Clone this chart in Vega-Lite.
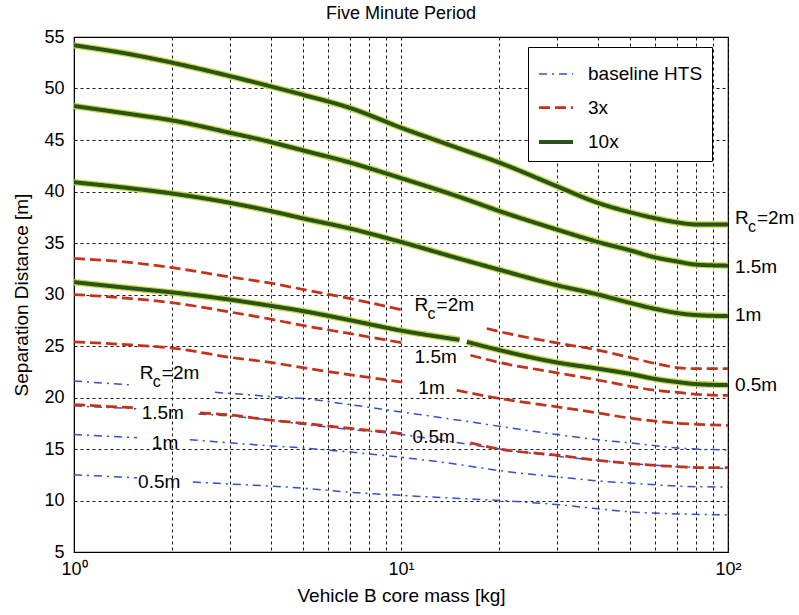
{
  "$schema": "https://vega.github.io/schema/vega-lite/v6.json",
  "width": 654,
  "height": 515,
  "autosize": {"type": "none"},
  "padding": {"left": 74, "top": 37, "right": 71, "bottom": 63},
  "background": "#ffffff",
  "title": {"text": "Five Minute Period", "font": "Liberation Sans", "fontSize": 18, "fontWeight": "normal", "color": "#000", "offset": 5},
  "datasets": {
    "curves": [
      {"s":"10x","r":"2m","p":1,"x":1,"y":54.2},{"s":"10x","r":"2m","p":1,"x":1.5,"y":53.3},{"s":"10x","r":"2m","p":1,"x":2,"y":52.5},{"s":"10x","r":"2m","p":1,"x":3,"y":51.2},{"s":"10x","r":"2m","p":1,"x":4,"y":50.2},{"s":"10x","r":"2m","p":1,"x":5,"y":49.4},{"s":"10x","r":"2m","p":1,"x":7,"y":48.1},{"s":"10x","r":"2m","p":1,"x":10,"y":46.2},{"s":"10x","r":"2m","p":1,"x":15,"y":44.2},{"s":"10x","r":"2m","p":1,"x":20,"y":42.8},{"s":"10x","r":"2m","p":1,"x":30,"y":40.5},{"s":"10x","r":"2m","p":1,"x":40,"y":38.9},{"s":"10x","r":"2m","p":1,"x":50,"y":38.0},{"s":"10x","r":"2m","p":1,"x":60,"y":37.4},{"s":"10x","r":"2m","p":1,"x":70,"y":37.0},{"s":"10x","r":"2m","p":1,"x":80,"y":36.8},{"s":"10x","r":"2m","p":1,"x":100,"y":36.8},
      {"s":"10x","r":"1.5m","p":1,"x":1,"y":48.3},{"s":"10x","r":"1.5m","p":1,"x":1.5,"y":47.5},{"s":"10x","r":"1.5m","p":1,"x":2,"y":46.9},{"s":"10x","r":"1.5m","p":1,"x":3,"y":45.7},{"s":"10x","r":"1.5m","p":1,"x":4,"y":44.8},{"s":"10x","r":"1.5m","p":1,"x":5,"y":44.0},{"s":"10x","r":"1.5m","p":1,"x":7,"y":42.8},{"s":"10x","r":"1.5m","p":1,"x":10,"y":41.3},{"s":"10x","r":"1.5m","p":1,"x":15,"y":39.5},{"s":"10x","r":"1.5m","p":1,"x":20,"y":38.1},{"s":"10x","r":"1.5m","p":1,"x":30,"y":36.3},{"s":"10x","r":"1.5m","p":1,"x":40,"y":35.1},{"s":"10x","r":"1.5m","p":1,"x":50,"y":34.3},{"s":"10x","r":"1.5m","p":1,"x":60,"y":33.6},{"s":"10x","r":"1.5m","p":1,"x":70,"y":33.2},{"s":"10x","r":"1.5m","p":1,"x":80,"y":32.9},{"s":"10x","r":"1.5m","p":1,"x":100,"y":32.8},
      {"s":"10x","r":"1m","p":1,"x":1,"y":40.9},{"s":"10x","r":"1m","p":1,"x":1.5,"y":40.3},{"s":"10x","r":"1m","p":1,"x":2,"y":39.8},{"s":"10x","r":"1m","p":1,"x":3,"y":38.9},{"s":"10x","r":"1m","p":1,"x":4,"y":38.1},{"s":"10x","r":"1m","p":1,"x":5,"y":37.4},{"s":"10x","r":"1m","p":1,"x":7,"y":36.4},{"s":"10x","r":"1m","p":1,"x":10,"y":35.1},{"s":"10x","r":"1m","p":1,"x":15,"y":33.5},{"s":"10x","r":"1m","p":1,"x":20,"y":32.4},{"s":"10x","r":"1m","p":1,"x":30,"y":30.9},{"s":"10x","r":"1m","p":1,"x":40,"y":30.0},{"s":"10x","r":"1m","p":1,"x":50,"y":29.2},{"s":"10x","r":"1m","p":1,"x":60,"y":28.6},{"s":"10x","r":"1m","p":1,"x":70,"y":28.2},{"s":"10x","r":"1m","p":1,"x":80,"y":28.0},{"s":"10x","r":"1m","p":1,"x":100,"y":27.9},
      {"s":"10x","r":"0.5m","p":1,"x":1,"y":31.2},{"s":"10x","r":"0.5m","p":1,"x":1.5,"y":30.6},{"s":"10x","r":"0.5m","p":1,"x":2,"y":30.2},{"s":"10x","r":"0.5m","p":1,"x":3,"y":29.5},{"s":"10x","r":"0.5m","p":1,"x":4,"y":28.9},{"s":"10x","r":"0.5m","p":1,"x":5,"y":28.4},{"s":"10x","r":"0.5m","p":1,"x":7,"y":27.5},{"s":"10x","r":"0.5m","p":1,"x":10,"y":26.5},{"s":"10x","r":"0.5m","p":1,"x":15.1,"y":25.6},
      {"s":"10x","r":"0.5m","p":2,"x":15.9,"y":25.4},{"s":"10x","r":"0.5m","p":2,"x":20,"y":24.6},{"s":"10x","r":"0.5m","p":2,"x":30,"y":23.4},{"s":"10x","r":"0.5m","p":2,"x":40,"y":22.8},{"s":"10x","r":"0.5m","p":2,"x":50,"y":22.3},{"s":"10x","r":"0.5m","p":2,"x":60,"y":21.8},{"s":"10x","r":"0.5m","p":2,"x":70,"y":21.5},{"s":"10x","r":"0.5m","p":2,"x":80,"y":21.3},{"s":"10x","r":"0.5m","p":2,"x":100,"y":21.2},

      {"s":"3x","r":"2m","p":1,"x":1,"y":33.5},{"s":"3x","r":"2m","p":1,"x":1.5,"y":33.1},{"s":"3x","r":"2m","p":1,"x":2,"y":32.6},{"s":"3x","r":"2m","p":1,"x":3,"y":31.7},{"s":"3x","r":"2m","p":1,"x":4,"y":31.1},{"s":"3x","r":"2m","p":1,"x":5,"y":30.5},{"s":"3x","r":"2m","p":1,"x":7,"y":29.6},{"s":"3x","r":"2m","p":1,"x":10.1,"y":28.5},
      {"s":"3x","r":"2m","p":2,"x":18.3,"y":26.7},{"s":"3x","r":"2m","p":2,"x":20,"y":26.4},{"s":"3x","r":"2m","p":2,"x":30,"y":25.3},{"s":"3x","r":"2m","p":2,"x":40,"y":24.6},{"s":"3x","r":"2m","p":2,"x":50,"y":23.9},{"s":"3x","r":"2m","p":2,"x":60,"y":23.3},{"s":"3x","r":"2m","p":2,"x":70,"y":22.9},{"s":"3x","r":"2m","p":2,"x":80,"y":22.8},{"s":"3x","r":"2m","p":2,"x":100,"y":22.8},
      {"s":"3x","r":"1.5m","p":1,"x":1,"y":30.0},{"s":"3x","r":"1.5m","p":1,"x":1.5,"y":29.6},{"s":"3x","r":"1.5m","p":1,"x":2,"y":29.2},{"s":"3x","r":"1.5m","p":1,"x":3,"y":28.3},{"s":"3x","r":"1.5m","p":1,"x":4,"y":27.6},{"s":"3x","r":"1.5m","p":1,"x":5,"y":27.0},{"s":"3x","r":"1.5m","p":1,"x":7,"y":26.2},{"s":"3x","r":"1.5m","p":1,"x":10.1,"y":25.3},
      {"s":"3x","r":"1.5m","p":2,"x":16.3,"y":24.1},{"s":"3x","r":"1.5m","p":2,"x":20,"y":23.4},{"s":"3x","r":"1.5m","p":2,"x":30,"y":22.4},{"s":"3x","r":"1.5m","p":2,"x":40,"y":21.7},{"s":"3x","r":"1.5m","p":2,"x":50,"y":21.1},{"s":"3x","r":"1.5m","p":2,"x":60,"y":20.7},{"s":"3x","r":"1.5m","p":2,"x":70,"y":20.5},{"s":"3x","r":"1.5m","p":2,"x":80,"y":20.3},{"s":"3x","r":"1.5m","p":2,"x":100,"y":20.2},
      {"s":"3x","r":"1m","p":1,"x":1,"y":25.4},{"s":"3x","r":"1m","p":1,"x":1.5,"y":25.1},{"s":"3x","r":"1m","p":1,"x":2,"y":24.8},{"s":"3x","r":"1m","p":1,"x":3,"y":23.9},{"s":"3x","r":"1m","p":1,"x":4,"y":23.4},{"s":"3x","r":"1m","p":1,"x":5,"y":22.9},{"s":"3x","r":"1m","p":1,"x":7,"y":22.2},{"s":"3x","r":"1m","p":1,"x":10.1,"y":21.5},
      {"s":"3x","r":"1m","p":2,"x":14.8,"y":20.7},{"s":"3x","r":"1m","p":2,"x":20,"y":19.9},{"s":"3x","r":"1m","p":2,"x":30,"y":19.1},{"s":"3x","r":"1m","p":2,"x":40,"y":18.5},{"s":"3x","r":"1m","p":2,"x":50,"y":18.0},{"s":"3x","r":"1m","p":2,"x":60,"y":17.7},{"s":"3x","r":"1m","p":2,"x":70,"y":17.5},{"s":"3x","r":"1m","p":2,"x":80,"y":17.4},{"s":"3x","r":"1m","p":2,"x":100,"y":17.3},
      {"s":"3x","r":"0.5m","p":1,"x":1,"y":19.3},{"s":"3x","r":"0.5m","p":1,"x":1.56,"y":19.0},
      {"s":"3x","r":"0.5m","p":2,"x":2.43,"y":18.5},{"s":"3x","r":"0.5m","p":2,"x":3,"y":18.3},{"s":"3x","r":"0.5m","p":2,"x":4,"y":17.8},{"s":"3x","r":"0.5m","p":2,"x":5,"y":17.5},{"s":"3x","r":"0.5m","p":2,"x":7,"y":17.0},{"s":"3x","r":"0.5m","p":2,"x":10.1,"y":16.5},
      {"s":"3x","r":"0.5m","p":3,"x":16.3,"y":15.6},{"s":"3x","r":"0.5m","p":3,"x":20,"y":15.0},{"s":"3x","r":"0.5m","p":3,"x":30,"y":14.4},{"s":"3x","r":"0.5m","p":3,"x":40,"y":13.9},{"s":"3x","r":"0.5m","p":3,"x":50,"y":13.6},{"s":"3x","r":"0.5m","p":3,"x":60,"y":13.4},{"s":"3x","r":"0.5m","p":3,"x":70,"y":13.3},{"s":"3x","r":"0.5m","p":3,"x":80,"y":13.2},{"s":"3x","r":"0.5m","p":3,"x":100,"y":13.2},

      {"s":"baseline HTS","r":"2m","p":1,"x":1,"y":21.6},{"s":"baseline HTS","r":"2m","p":1,"x":1.52,"y":21.2},
      {"s":"baseline HTS","r":"2m","p":2,"x":2.7,"y":20.5},{"s":"baseline HTS","r":"2m","p":2,"x":3,"y":20.4},{"s":"baseline HTS","r":"2m","p":2,"x":4,"y":20.1},{"s":"baseline HTS","r":"2m","p":2,"x":5,"y":19.9},{"s":"baseline HTS","r":"2m","p":2,"x":7,"y":19.3},{"s":"baseline HTS","r":"2m","p":2,"x":10,"y":18.6},{"s":"baseline HTS","r":"2m","p":2,"x":15,"y":17.8},{"s":"baseline HTS","r":"2m","p":2,"x":20,"y":17.2},{"s":"baseline HTS","r":"2m","p":2,"x":30,"y":16.4},{"s":"baseline HTS","r":"2m","p":2,"x":40,"y":15.9},{"s":"baseline HTS","r":"2m","p":2,"x":50,"y":15.6},{"s":"baseline HTS","r":"2m","p":2,"x":70,"y":15.1},{"s":"baseline HTS","r":"2m","p":2,"x":100,"y":14.9},
      {"s":"baseline HTS","r":"1.5m","p":1,"x":1,"y":19.2},{"s":"baseline HTS","r":"1.5m","p":1,"x":1.55,"y":18.9},
      {"s":"baseline HTS","r":"1.5m","p":2,"x":2.4,"y":18.4},{"s":"baseline HTS","r":"1.5m","p":2,"x":3,"y":18.2},{"s":"baseline HTS","r":"1.5m","p":2,"x":4,"y":17.8},{"s":"baseline HTS","r":"1.5m","p":2,"x":5,"y":17.4},{"s":"baseline HTS","r":"1.5m","p":2,"x":7,"y":16.9},{"s":"baseline HTS","r":"1.5m","p":2,"x":10,"y":16.4},{"s":"baseline HTS","r":"1.5m","p":2,"x":15,"y":15.6},{"s":"baseline HTS","r":"1.5m","p":2,"x":20,"y":15.0},{"s":"baseline HTS","r":"1.5m","p":2,"x":30,"y":14.3},{"s":"baseline HTS","r":"1.5m","p":2,"x":40,"y":13.9},{"s":"baseline HTS","r":"1.5m","p":2,"x":50,"y":13.6},{"s":"baseline HTS","r":"1.5m","p":2,"x":70,"y":13.3},{"s":"baseline HTS","r":"1.5m","p":2,"x":100,"y":13.1},
      {"s":"baseline HTS","r":"1m","p":1,"x":1,"y":16.4},{"s":"baseline HTS","r":"1m","p":1,"x":1.56,"y":16.1},
      {"s":"baseline HTS","r":"1m","p":2,"x":2.26,"y":15.9},{"s":"baseline HTS","r":"1m","p":2,"x":3,"y":15.6},{"s":"baseline HTS","r":"1m","p":2,"x":4,"y":15.3},{"s":"baseline HTS","r":"1m","p":2,"x":5,"y":15.1},{"s":"baseline HTS","r":"1m","p":2,"x":7,"y":14.7},{"s":"baseline HTS","r":"1m","p":2,"x":10,"y":14.2},{"s":"baseline HTS","r":"1m","p":2,"x":15,"y":13.5},{"s":"baseline HTS","r":"1m","p":2,"x":20,"y":12.9},{"s":"baseline HTS","r":"1m","p":2,"x":30,"y":12.3},{"s":"baseline HTS","r":"1m","p":2,"x":40,"y":11.9},{"s":"baseline HTS","r":"1m","p":2,"x":50,"y":11.7},{"s":"baseline HTS","r":"1m","p":2,"x":70,"y":11.4},{"s":"baseline HTS","r":"1m","p":2,"x":100,"y":11.3},
      {"s":"baseline HTS","r":"0.5m","p":1,"x":1,"y":12.5},{"s":"baseline HTS","r":"0.5m","p":1,"x":1.56,"y":12.2},
      {"s":"baseline HTS","r":"0.5m","p":2,"x":2.31,"y":11.8},{"s":"baseline HTS","r":"0.5m","p":2,"x":3,"y":11.6},{"s":"baseline HTS","r":"0.5m","p":2,"x":4,"y":11.4},{"s":"baseline HTS","r":"0.5m","p":2,"x":5,"y":11.2},{"s":"baseline HTS","r":"0.5m","p":2,"x":7,"y":10.8},{"s":"baseline HTS","r":"0.5m","p":2,"x":10,"y":10.5},{"s":"baseline HTS","r":"0.5m","p":2,"x":15,"y":10.2},{"s":"baseline HTS","r":"0.5m","p":2,"x":20,"y":10.0},{"s":"baseline HTS","r":"0.5m","p":2,"x":30,"y":9.6},{"s":"baseline HTS","r":"0.5m","p":2,"x":40,"y":9.2},{"s":"baseline HTS","r":"0.5m","p":2,"x":50,"y":8.9},{"s":"baseline HTS","r":"0.5m","p":2,"x":70,"y":8.7},{"s":"baseline HTS","r":"0.5m","p":2,"x":100,"y":8.6}
    ],
    "labels": [
      {"x":105,"y":32.7,"t":"1.5m"},{"x":105,"y":28.0,"t":"1m"},{"x":105,"y":21.2,"t":"0.5m"},
      {"x":11.0,"y":23.9,"t":"1.5m"},{"x":11.3,"y":20.9,"t":"1m"},{"x":10.85,"y":16.2,"t":"0.5m"},
      {"x":1.61,"y":18.5,"t":"1.5m"},{"x":1.73,"y":15.6,"t":"1m"},{"x":1.57,"y":11.8,"t":"0.5m"}
    ],
    "rc": [
      {"x":105,"y":37.4},{"x":11.0,"y":29.0},{"x":1.59,"y":22.4}
    ]
  },
  "encoding": {
    "x": {"field": "x", "type": "quantitative",
      "scale": {"type": "log", "domain": [1, 100], "nice": false},
      "axis": {"title": "Vehicle B core mass [kg]",
        "values": [1,2,3,4,5,6,7,8,9,10,20,30,40,50,60,70,80,90,100],
        "labelExpr": "datum.value == 1 ? '10⁰' : datum.value == 10 ? '10¹' : datum.value == 100 ? '10²' : ''",
        "labelFlush": false, "labelOverlap": false, "labelPadding": 8, "titlePadding": 8}},
    "y": {"field": "y", "type": "quantitative",
      "scale": {"domain": [5, 55], "nice": false, "zero": false},
      "axis": {"title": "Separation Distance [m]", "values": [5,10,15,20,25,30,35,40,45,50,55],
        "labelPadding": 10, "titlePadding": 12}}
  },
  "layer": [
    {
      "data": {"name": "curves"},
      "transform": [{"filter": "datum.s == 'baseline HTS'"}],
      "mark": {"type": "line", "clip": true, "interpolate": "monotone"},
      "encoding": {
        "detail": [{"field": "r"}, {"field": "p"}],
        "color": {"field": "s", "type": "nominal", "scale": {"domain": ["baseline HTS", "3x", "10x"], "range": ["#3350c8", "#c4321c", "#2a531a"]}, "legend": {"title": null}},
        "strokeDash": {"field": "s", "type": "nominal", "scale": {"domain": ["baseline HTS", "3x", "10x"], "range": [[8, 5, 2, 5], [11, 5], [1, 0]]}, "legend": {"title": null}},
        "strokeWidth": {"field": "s", "type": "nominal", "scale": {"domain": ["baseline HTS", "3x", "10x"], "range": [1.5, 4, 4.5]}, "legend": {"title": null}}
      }
    },
    {
      "data": {"name": "curves"},
      "transform": [{"filter": "datum.s == '3x'"}],
      "mark": {"type": "line", "clip": true, "interpolate": "monotone"},
      "encoding": {
        "detail": [{"field": "r"}, {"field": "p"}],
        "color": {"field": "s", "type": "nominal", "legend": {"title": null}},
        "strokeDash": {"field": "s", "type": "nominal", "legend": {"title": null}},
        "strokeWidth": {"field": "s", "type": "nominal", "legend": {"title": null}}
      }
    },
    {
      "data": {"name": "curves"},
      "transform": [{"filter": "datum.s == '10x'"}],
      "mark": {"type": "line", "clip": true, "interpolate": "monotone", "color": "#c8d84a", "strokeWidth": 6.5},
      "encoding": {"detail": [{"field": "r"}, {"field": "p"}]}
    },
    {
      "data": {"name": "curves"},
      "transform": [{"filter": "datum.s == '10x'"}],
      "mark": {"type": "line", "clip": true, "interpolate": "monotone"},
      "encoding": {
        "detail": [{"field": "r"}, {"field": "p"}],
        "color": {"field": "s", "type": "nominal", "legend": {"title": null}},
        "strokeDash": {"field": "s", "type": "nominal", "legend": {"title": null}},
        "strokeWidth": {"field": "s", "type": "nominal", "legend": {"title": null}}
      }
    },
    {
      "data": {"name": "labels"},
      "mark": {"type": "text", "align": "left", "baseline": "middle", "font": "Liberation Sans", "fontSize": 19, "color": "#000"},
      "encoding": {"text": {"field": "t"}}
    },
    {
      "data": {"name": "rc"},
      "mark": {"type": "text", "align": "left", "baseline": "middle", "font": "Liberation Sans", "fontSize": 19, "color": "#000", "text": "R"},
      "encoding": {}
    },
    {
      "data": {"name": "rc"},
      "mark": {"type": "text", "align": "left", "baseline": "middle", "font": "Liberation Sans", "fontSize": 16, "color": "#000", "text": "c", "dx": 13, "dy": 9},
      "encoding": {}
    },
    {
      "data": {"name": "rc"},
      "mark": {"type": "text", "align": "left", "baseline": "middle", "font": "Liberation Sans", "fontSize": 19, "color": "#000", "text": "=2m", "dx": 22},
      "encoding": {}
    }
  ],
  "config": {
    "view": {"stroke": "#000", "strokeWidth": 1.2},
    "axis": {"labelFont": "Liberation Sans", "titleFont": "Liberation Sans", "labelFontSize": 18, "titleFontSize": 19,
      "titleFontWeight": "normal", "labelColor": "#000", "titleColor": "#000", "domainColor": "#000",
      "grid": true, "gridColor": "#000", "gridDash": [3, 3], "gridOpacity": 0.9, "gridWidth": 1, "ticks": false},
    "legend": {"orient": "none", "legendX": 454, "legendY": 10, "strokeColor": "#000", "fillColor": "#fff",
      "padding": 9, "labelFont": "Liberation Sans", "labelFontSize": 19, "labelColor": "#000",
      "symbolType": "stroke", "symbolSize": 1156, "labelOffset": 13, "rowPadding": 5, "cornerRadius": 0}
  }
}
